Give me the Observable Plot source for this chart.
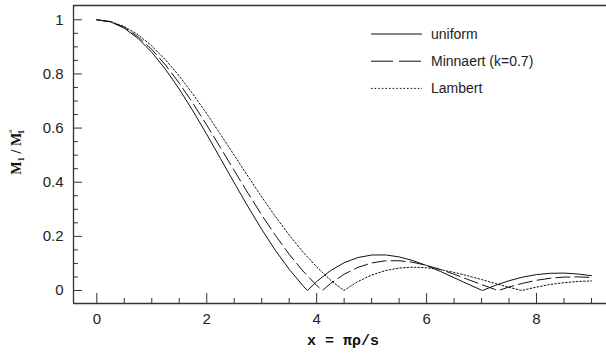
<!DOCTYPE html>
<html>
<head>
<meta charset="utf-8">
<script src="https://cdn.jsdelivr.net/npm/d3@7"></script>
<script src="https://cdn.jsdelivr.net/npm/@observablehq/plot@0.6"></script>
<style>
  html, body { margin: 0; padding: 0; background: #fff; }
  #wrap { position: relative; width: 606px; height: 354px; }
  #wrap svg { position: absolute; left: 0; top: 0; }
</style>
</head>
<body>
<div id="wrap"></div>
<script>
// ---- data ----
const uniformX = [0,0.25,0.5,0.75,1,1.25,1.5,1.75,2,2.25,2.5,2.75,3,3.25,3.5,3.75,3.832,4,4.25,4.5,4.75,5,5.25,5.5,5.75,6,6.25,6.5,6.75,7,7.016,7.25,7.5,7.75,8,8.25,8.5,8.75,9];
const uniformY = [1,0.9922,0.9691,0.9313,0.8801,0.8170,0.7439,0.6630,0.5767,0.4874,0.3977,0.3099,0.2260,0.1478,0.0785,0.0177,0,0.0330,0.0732,0.1027,0.1218,0.1310,0.1315,0.1242,0.1106,0.0922,0.0706,0.0473,0.0239,0.0013,0,0.0189,0.0361,0.0495,0.0587,0.0636,0.0643,0.0611,0.0545];

const minnaertX = [0,0.25,0.5,0.75,1,1.25,1.5,1.75,2,2.25,2.5,2.75,3,3.25,3.5,3.75,4,4.106,4.25,4.5,4.75,5,5.25,5.5,5.75,6,6.25,6.5,6.75,7,7.25,7.305,7.5,7.75,8,8.25,8.5,8.75,9];
const minnaertY = [1,0.9929,0.9719,0.9375,0.8907,0.8330,0.7658,0.6912,0.6111,0.5277,0.4432,0.3597,0.2791,0.2033,0.1338,0.0721,0.0187,0,0.0255,0.0602,0.0855,0.1017,0.1097,0.1100,0.1041,0.0929,0.0778,0.0601,0.0410,0.0219,0.0036,0,0.0129,0.0268,0.0377,0.0453,0.0495,0.0503,0.0481];

const lambertX = [0,0.25,0.5,0.75,1,1.25,1.5,1.75,2,2.25,2.5,2.75,3,3.25,3.5,3.75,4,4.25,4.493,4.75,5,5.25,5.5,5.75,6,6.25,6.5,6.75,7,7.25,7.5,7.725,7.75,8,8.25,8.5,8.75,9];
const lambertY = [1,0.9938,0.9751,0.9449,0.9036,0.8522,0.7924,0.7254,0.6531,0.5772,0.4995,0.4217,0.3457,0.2729,0.2048,0.1425,0.0871,0.0391,0,0.0330,0.0571,0.0735,0.0830,0.0862,0.0839,0.0772,0.0670,0.0544,0.0404,0.0259,0.0118,0,0.0012,0.0126,0.0226,0.0289,0.0334,0.0354];

const seriesNames = ["uniform", "Minnaert (k=0.7)", "Lambert"];
const xMajor = [0, 2, 4, 6, 8];
const xMinor = [0.5,1,1.5,2.5,3,3.5,4.5,5,5.5,6.5,7,7.5,8.5,9];
const yMajor = [0, 0.2, 0.4, 0.6, 0.8, 1];
const yMinor = [0.05,0.1,0.15,0.25,0.3,0.35,0.45,0.5,0.55,0.65,0.7,0.75,0.85,0.9,0.95];
const xDomain = [-0.424, 9.273];
const yDomain = [-0.048, 1.0528];
const xLabel = "x = πρ/s";

// ---- build tables ----
const toRows = (xs, ys, s) => xs.map((x, i) => ({x, y: ys[i], s}));
const uni = toRows(uniformX, uniformY, seriesNames[0]);
const min = toRows(minnaertX, minnaertY, seriesNames[1]);
const lam = toRows(lambertX, lambertY, seriesNames[2]);

const dashes = [null, "14,5", "1.6,2"];
const legendDashes = [null, "22,6", "1.6,2"];
const ink = "#111";
const axisInk = "#333";
const tickFont = "'Liberation Sans', Arial, sans-serif";
const fmt = d3.format("~g");

const plot = Plot.plot({
  width: 606,
  height: 354,
  marginLeft: 73,
  marginRight: 0,
  marginTop: 5,
  marginBottom: 51,
  style: {background: "#fff", color: axisInk, fontFamily: tickFont},
  x: {domain: xDomain},
  y: {domain: yDomain},
  marks: [
    Plot.ruleY([yDomain[1]], {stroke: axisInk, strokeWidth: 1.3}),
    Plot.ruleY([yDomain[0]], {stroke: axisInk, strokeWidth: 1.3}),
    Plot.ruleX([xDomain[0]], {stroke: axisInk, strokeWidth: 1.3}),
    Plot.axisX(xMajor, {tickSize: -10, tickFormat: () => "", label: null, stroke: axisInk}),
    Plot.axisX(xMinor, {tickSize: -5, tickFormat: () => "", label: null, stroke: axisInk}),
    Plot.axisX(xMajor, {tickSize: 0, tickPadding: 10, fontSize: 15, fill: "#222", tickFormat: fmt, label: null}),
    Plot.axisY(yMajor, {tickSize: -9, tickFormat: () => "", label: null, stroke: axisInk}),
    Plot.axisY(yMinor, {tickSize: -5, tickFormat: () => "", label: null, stroke: axisInk}),
    Plot.axisY(yMajor, {tickSize: 0, tickPadding: 10, fontSize: 15, fill: "#222", tickFormat: fmt, label: null}),
    Plot.line(uni, {x: "x", y: "y", stroke: ink, strokeWidth: 1}),
    Plot.line(min, {x: "x", y: "y", stroke: ink, strokeWidth: 1, strokeDasharray: dashes[1]}),
    Plot.line(lam, {x: "x", y: "y", stroke: ink, strokeWidth: 1, strokeDasharray: dashes[2]})
  ]
});
document.getElementById("wrap").appendChild(plot);

// ---- overlay: legend and axis titles ----
const ov = d3.select("#wrap").append("svg")
  .attr("width", 606).attr("height", 354)
  .style("pointer-events", "none");

const lg = ov.append("g");
seriesNames.forEach((name, i) => {
  const cy = 34 + i * 27.2;
  lg.append("line").attr("x1", 371).attr("x2", 422).attr("y1", cy).attr("y2", cy)
    .attr("stroke", ink).attr("stroke-width", 1)
    .attr("stroke-dasharray", legendDashes[i]);
  lg.append("text").attr("x", 431).attr("y", cy + 5)
    .attr("font-family", tickFont).attr("font-size", 14).attr("fill", "#222")
    .text(name);
});

ov.append("text")
  .attr("x", 343).attr("y", 345)
  .attr("text-anchor", "middle")
  .attr("font-family", "'Liberation Mono', 'DejaVu Sans Mono', monospace")
  .attr("font-weight", "bold").attr("font-size", 15).attr("fill", "#111")
  .text(xLabel);

const yl = ov.append("text")
  .attr("transform", "translate(21,152) rotate(-90)")
  .attr("text-anchor", "middle")
  .attr("font-family", "'Liberation Serif', 'DejaVu Serif', serif")
  .attr("font-weight", "bold").attr("font-size", 14).attr("fill", "#111");
yl.append("tspan").text("M");
yl.append("tspan").attr("dy", 3).attr("font-size", 9).text("1");
yl.append("tspan").attr("dy", -3).text(" / M");
yl.append("tspan").attr("dy", -6).attr("font-size", 9).text("°");
yl.append("tspan").attr("dx", -5).attr("dy", 9).attr("font-size", 9).text("1");
</script>
</body>
</html>
